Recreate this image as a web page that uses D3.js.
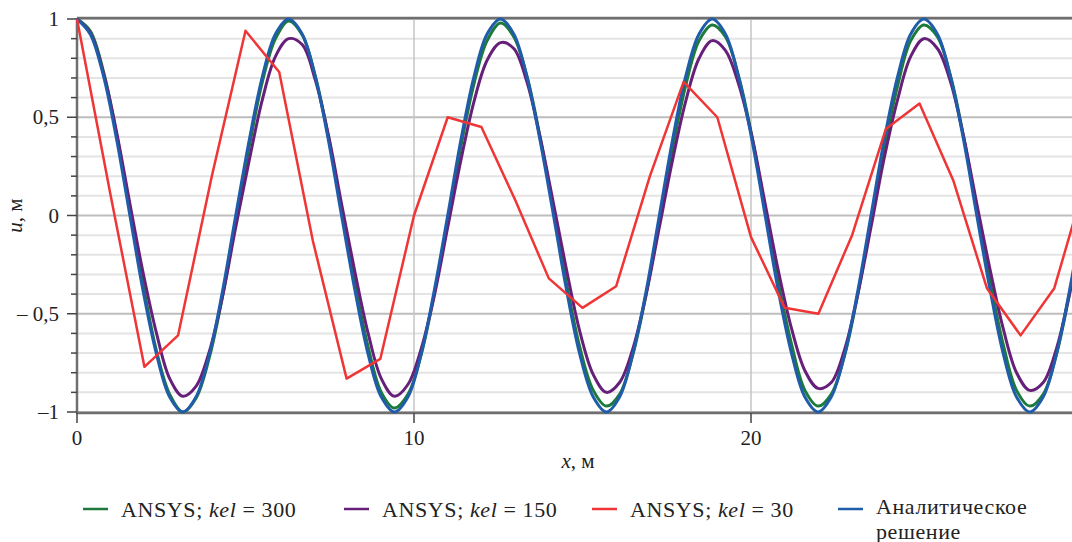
<!DOCTYPE html>
<html>
<head>
<meta charset="utf-8">
<script src="https://cdn.jsdelivr.net/npm/d3@7"></script>
<style>
  body { margin: 0; background: #fff; }
  svg { display: block; }
</style>
</head>
<body>
<div id="chart"></div>
<script>
// sample points of the smooth curves, m
const xs = [0, 0.39, 0.79, 1.18, 1.57, 1.96, 2.36, 2.75, 3.14, 3.53, 3.93, 4.32, 4.71, 5.11, 5.50, 5.89,
  6.28, 6.68, 7.07, 7.46, 7.85, 8.25, 8.64, 9.03, 9.42, 9.82, 10.21, 10.60, 11.00, 11.39, 11.78, 12.17,
  12.57, 12.96, 13.35, 13.74, 14.14, 14.53, 14.92, 15.32, 15.71, 16.10, 16.49, 16.89, 17.28, 17.67, 18.06, 18.46,
  18.85, 19.24, 19.63, 20.03, 20.42, 20.81, 21.21, 21.60, 21.99, 22.38, 22.78, 23.17, 23.56, 23.95, 24.35, 24.74,
  25.13, 25.53, 25.92, 26.31, 26.70, 27.10, 27.49, 27.88, 28.27, 28.67, 29.06, 29.45, 29.85, 30.24];

const uAnalytic = [1, 0.924, 0.707, 0.383, 0, -0.383, -0.707, -0.924, -1, -0.924, -0.707, -0.383, 0, 0.383, 0.707, 0.924,
  1, 0.924, 0.707, 0.383, 0, -0.383, -0.707, -0.924, -1, -0.924, -0.707, -0.383, 0, 0.383, 0.707, 0.924,
  1, 0.924, 0.707, 0.383, 0, -0.383, -0.707, -0.924, -1, -0.924, -0.707, -0.383, 0, 0.383, 0.707, 0.924,
  1, 0.924, 0.707, 0.383, 0, -0.383, -0.707, -0.924, -1, -0.924, -0.707, -0.383, 0, 0.383, 0.707, 0.924,
  1, 0.924, 0.707, 0.383, 0, -0.383, -0.707, -0.924, -1, -0.924, -0.707, -0.383, 0, 0.383];

const uKel300 = [1.00, 0.94, 0.73, 0.41, 0.03, -0.35, -0.69, -0.91, -1.00, -0.93, -0.72, -0.41, -0.03, 0.35, 0.68, 0.90,
  0.99, 0.92, 0.71, 0.40, 0.03, -0.35, -0.67, -0.90, -0.98, -0.91, -0.71, -0.40, -0.03, 0.35, 0.67, 0.89,
  0.98, 0.91, 0.71, 0.40, 0.03, -0.35, -0.67, -0.89, -0.97, -0.91, -0.71, -0.40, -0.03, 0.34, 0.66, 0.89,
  0.97, 0.91, 0.71, 0.40, 0.03, -0.34, -0.66, -0.89, -0.97, -0.91, -0.71, -0.40, -0.03, 0.34, 0.66, 0.89,
  0.97, 0.91, 0.71, 0.40, 0.03, -0.34, -0.66, -0.89, -0.97, -0.91, -0.71, -0.40, -0.03, 0.34];

const uKel150 = [1.00, 0.93, 0.72, 0.42, 0.06, -0.29, -0.60, -0.83, -0.92, -0.87, -0.69, -0.41, -0.06, 0.28, 0.59, 0.81,
  0.90, 0.87, 0.69, 0.41, 0.06, -0.29, -0.60, -0.83, -0.92, -0.86, -0.68, -0.41, -0.06, 0.28, 0.58, 0.79,
  0.88, 0.85, 0.68, 0.40, 0.06, -0.28, -0.59, -0.81, -0.90, -0.85, -0.68, -0.40, -0.06, 0.28, 0.58, 0.80,
  0.89, 0.84, 0.67, 0.40, 0.06, -0.28, -0.58, -0.79, -0.88, -0.85, -0.68, -0.40, -0.06, 0.29, 0.59, 0.81,
  0.90, 0.85, 0.68, 0.40, 0.06, -0.28, -0.58, -0.80, -0.89, -0.85, -0.68, -0.40, -0.06, 0.28];

// kel = 30 nodes, 1 m apart
const xsKel30 = [0, 1, 2, 3, 4, 5, 6, 7, 8, 9, 10, 11, 12, 13, 14, 15, 16, 17, 18, 19, 20, 21, 22, 23, 24, 25, 26, 27, 28, 29, 30];
const uKel30 = [1.00, 0.10, -0.77, -0.61, 0.20, 0.94, 0.73, -0.13, -0.83, -0.73, 0.00, 0.50, 0.45, 0.08, -0.32, -0.47,
  -0.36, 0.20, 0.68, 0.50, -0.11, -0.47, -0.50, -0.10, 0.44, 0.57, 0.18, -0.37, -0.61, -0.37, 0.22];

const xTicks = [0, 10, 20];
const yTicks = [1, 0.5, 0, -0.5, -1];
const yTickLabels = ["1", "0,5", "0", "\u2013 0,5", "\u20131"];
const seriesNames = ["ANSYS; kel = 300", "ANSYS; kel = 150", "ANSYS; kel = 30", "Аналитическое решение"];

const W = 1072, H = 542;
const margin = { top: 19, left: 77, bottom: 131 };
const colors = { k300: "#1c7a3a", k150: "#66207a", k30: "#ef3535", an: "#1f5caa" };
const FONT = "'Liberation Serif', 'Times New Roman', 'DejaVu Serif', serif";

const svg = d3.select("#chart").append("svg")
  .attr("width", W)
  .attr("height", H)
  .attr("font-family", FONT);

// x axis reaches 30 m, beyond the right edge of the picture
const x = d3.scaleLinear().domain([0, 30]).range([margin.left, margin.left + 30 * 33.7]);
const y = d3.scaleLinear().domain([-1, 1]).range([H - margin.bottom + 1, margin.top]);

svg.append("defs").append("clipPath").attr("id", "plot")
  .append("rect")
  .attr("x", margin.left - 4).attr("y", y(1) - 4)
  .attr("width", W).attr("height", y(-1) - y(1) + 8);

// grid
const minor = d3.range(-10, 11).map(d => d / 10);
svg.append("g").selectAll("line")
  .data(minor)
  .join("line")
  .attr("x1", margin.left).attr("x2", W)
  .attr("y1", d => y(d)).attr("y2", d => y(d))
  .attr("stroke", d => (Math.round(d * 10) % 5 === 0) ? "#bdbdbd" : "#e4e4e4")
  .attr("stroke-width", 2);

svg.append("g").selectAll("line")
  .data(xTicks.filter(d => d > 0))
  .join("line")
  .attr("x1", d => x(d)).attr("x2", d => x(d))
  .attr("y1", y(1)).attr("y2", y(-1))
  .attr("stroke", "#c4c4c4")
  .attr("stroke-width", 1.5);

// frame lines
svg.append("line")
  .attr("x1", margin.left).attr("x2", W)
  .attr("y1", y(1) - 1).attr("y2", y(1) - 1)
  .attr("stroke", "#6f6f6f").attr("stroke-width", 2.5);
svg.append("line")
  .attr("x1", margin.left).attr("x2", margin.left)
  .attr("y1", y(1) - 1).attr("y2", y(-1) + 1)
  .attr("stroke", "#6f6f6f").attr("stroke-width", 2.5);
svg.append("line")
  .attr("x1", margin.left - 1).attr("x2", W)
  .attr("y1", y(-1) + 1).attr("y2", y(-1) + 1)
  .attr("stroke", "#6f6f6f").attr("stroke-width", 2.5);

// y ticks: long every 0.5, short every 0.1
svg.append("g").selectAll("line")
  .data(minor)
  .join("line")
  .attr("x1", d => (Math.round(d * 10) % 5 === 0) ? margin.left - 10 : margin.left - 6)
  .attr("x2", margin.left)
  .attr("y1", d => y(d)).attr("y2", d => y(d))
  .attr("stroke", "#444").attr("stroke-width", 1.5);

svg.append("g").selectAll("text")
  .data(yTicks)
  .join("text")
  .attr("x", margin.left - 18)
  .attr("y", d => y(d) + 7)
  .attr("text-anchor", "end")
  .attr("font-size", 21)
  .attr("fill", "#222")
  .text((d, i) => yTickLabels[i]);

// x ticks
svg.append("g").selectAll("line")
  .data(xTicks)
  .join("line")
  .attr("x1", d => x(d)).attr("x2", d => x(d))
  .attr("y1", y(-1) + 1).attr("y2", y(-1) + 11)
  .attr("stroke", "#444").attr("stroke-width", 1.5);

svg.append("g").selectAll("text")
  .data(xTicks)
  .join("text")
  .attr("x", d => x(d))
  .attr("y", 445)
  .attr("text-anchor", "middle")
  .attr("font-size", 21)
  .attr("fill", "#222")
  .text(d => d);

// axis titles
const xTitle = svg.append("text")
  .attr("x", 578).attr("y", 468)
  .attr("text-anchor", "middle")
  .attr("font-size", 21).attr("fill", "#222");
xTitle.append("tspan").attr("font-style", "italic").text("x");
xTitle.append("tspan").text(", м");

const yTitle = svg.append("text")
  .attr("transform", `translate(22, ${y(0)}) rotate(-90)`)
  .attr("text-anchor", "middle")
  .attr("font-size", 21).attr("fill", "#222");
yTitle.append("tspan").attr("font-style", "italic").text("u");
yTitle.append("tspan").text(", м");

// curves
const smooth = d3.line()
  .x(d => x(d[0]))
  .y(d => y(d[1]))
  .curve(d3.curveCatmullRom.alpha(0.5));
const poly = d3.line()
  .x(d => x(d[0]))
  .y(d => y(d[1]));

const plot = svg.append("g").attr("clip-path", "url(#plot)");

const curves = [
  { pts: d3.zip(xs, uKel300), color: colors.k300, gen: smooth, w: 3 },
  { pts: d3.zip(xs, uKel150), color: colors.k150, gen: smooth, w: 3 },
  { pts: d3.zip(xs, uAnalytic), color: colors.an, gen: smooth, w: 3 },
  { pts: d3.zip(xsKel30, uKel30), color: colors.k30, gen: poly, w: 2.5 }
];

plot.selectAll("path")
  .data(curves)
  .join("path")
  .attr("d", d => d.gen(d.pts))
  .attr("fill", "none")
  .attr("stroke", d => d.color)
  .attr("stroke-width", d => d.w)
  .attr("stroke-linejoin", "round");

// legend
const legendItems = [
  { x: 83, color: colors.k300, name: seriesNames[0] },
  { x: 344, color: colors.k150, name: seriesNames[1] },
  { x: 592, color: colors.k30, name: seriesNames[2] },
  { x: 838, color: colors.an, name: seriesNames[3] }
];

const leg = svg.append("g").selectAll("g")
  .data(legendItems)
  .join("g")
  .attr("transform", d => `translate(${d.x}, 509)`);

leg.append("line")
  .attr("x1", 0).attr("x2", 25)
  .attr("stroke", d => d.color)
  .attr("stroke-width", 2.5);

leg.each(function (d) {
  const m = d.name.match(/^(ANSYS; )(kel)( = \d+)$/);
  if (m) {
    const t = d3.select(this).append("text")
      .attr("x", 38).attr("y", 8)
      .attr("font-size", 22)
      .attr("letter-spacing", 0.6)
      .attr("fill", "#222");
    t.append("tspan").text(m[1]);
    t.append("tspan").attr("font-style", "italic").text(m[2]);
    t.append("tspan").text(m[3]);
  } else {
    // two separate lines, the second one runs off the bottom edge as in the source
    d3.select(this).selectAll("text")
      .data(d.name.split(" "))
      .join("text")
      .attr("x", 38)
      .attr("y", (w, i) => 5 + i * 25)
      .attr("font-size", 22)
      .attr("letter-spacing", 0.6)
      .attr("fill", "#222")
      .text(w => w);
  }
});
</script>
</body>
</html>
